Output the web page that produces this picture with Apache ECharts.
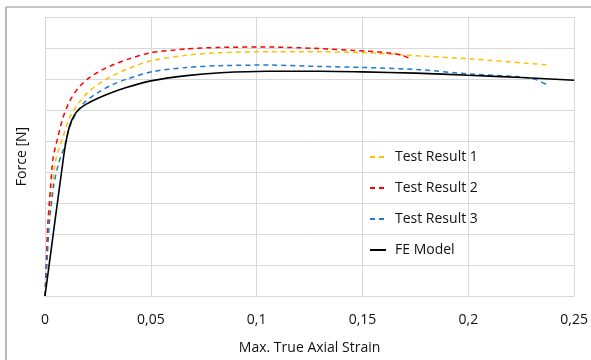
<!DOCTYPE html>
<html>
<head>
<meta charset="utf-8">
<script src="https://cdn.jsdelivr.net/npm/echarts@6/dist/echarts.min.js"></script>
<style>
  html, body { margin: 0; padding: 0; background: #fff; }
  #chart { width: 591px; height: 360px; }
</style>
</head>
<body>
<div id="chart"></div>
<script>
// 数据 (strain, force)
const test1 = [[0,0],[0.0007,1.04],[0.0017,2.4],[0.0035,3.6],[0.0052,4.42],[0.0085,5.13],[0.0116,5.75],[0.0156,6.2],
  [0.0203,6.57],[0.0266,6.9],[0.0329,7.14],[0.0392,7.33],[0.0495,7.58],[0.0668,7.77],[0.0825,7.85],
  [0.106,7.88],[0.126,7.88],[0.1517,7.85],[0.1706,7.77],[0.199,7.66],[0.2382,7.45]];
const test2 = [[0,0],[0.0006,1.04],[0.0014,2.4],[0.0026,3.5],[0.0038,4.45],[0.0061,5.13],[0.0085,5.75],[0.0116,6.28],
  [0.0156,6.7],[0.0203,7.01],[0.0266,7.28],[0.0329,7.48],[0.0392,7.64],[0.0495,7.84],[0.0668,7.97],
  [0.0825,8.02],[0.106,8.03],[0.1266,7.99],[0.1517,7.9],[0.164,7.83],[0.169,7.76],[0.172,7.67]];
const test3 = [[0,0],[0.0009,1.04],[0.0021,2.4],[0.0042,3.6],[0.0065,4.3],[0.0093,4.85],[0.0116,5.44],[0.0148,5.9],
  [0.0187,6.25],[0.025,6.56],[0.0313,6.8],[0.0392,7.01],[0.051,7.24],[0.0668,7.37],[0.0825,7.43],
  [0.106,7.45],[0.1266,7.41],[0.1517,7.37],[0.177,7.3],[0.199,7.17],[0.224,7.07],[0.232,6.98],[0.2367,6.83]];
const feModel = [[0,0],[0.0088,4.5],[0.01,5.0],[0.0117,5.5],[0.014,5.85],[0.0164,6.04],[0.0195,6.19],
  [0.025,6.38],[0.031,6.55],[0.038,6.72],[0.05,6.94],[0.067,7.11],[0.083,7.2],[0.105,7.25],[0.13,7.25],
  [0.15,7.23],[0.175,7.19],[0.2,7.12],[0.225,7.05],[0.25,6.96]];
const seriesNames = ['Test Result 1', 'Test Result 2', 'Test Result 3', 'FE Model'];
const xTicks = [0, 0.05, 0.1, 0.15, 0.2, 0.25];

const chart = echarts.init(document.getElementById('chart'), null, { renderer: 'canvas' });
const font = 'Open Sans, Liberation Sans, sans-serif';

function line(name, data, color, dashed) {
  return {
    name: name,
    type: 'line',
    data: data,
    smooth: 0.25,
    symbol: 'none',
    lineStyle: { color: color, width: dashed ? 1.5 : 1.6, type: dashed ? [5, 4] : 'solid' },
    itemStyle: { color: color }
  };
}

const option = {
  backgroundColor: '#fff',
  animation: false,
  grid: { left: 45, right: 15, top: 17, bottom: 57, containLabel: false },
  legend: {
    orient: 'vertical',
    left: 369, top: 150,
    padding: 0,
    itemGap: 17,
    itemWidth: 16, itemHeight: 14,
    data: seriesNames,
    itemStyle: { opacity: 0 },
    textStyle: { fontFamily: font, fontSize: 14, color: '#111', padding: [0, 0, 0, 4] }
  },
  xAxis: {
    type: 'value',
    min: 0, max: 0.25, interval: 0.05,
    axisLine: { show: true, lineStyle: { color: '#d9d9d9' } },
    axisTick: { show: false },
    splitLine: { show: true, lineStyle: { color: '#d9d9d9' } },
    axisLabel: {
      fontFamily: font, fontSize: 14, color: '#111', margin: 17,
      formatter: v => xTicks.includes(+v.toFixed(2)) ? String(+v.toFixed(2)).replace('.', ',') : ''
    },
    name: 'Max. True Axial Strain',
    nameLocation: 'middle', nameGap: 45,
    nameTextStyle: { fontFamily: font, fontSize: 14, color: '#111' }
  },
  yAxis: {
    type: 'value',
    min: 0, max: 9, interval: 1,
    axisLine: { show: false },
    axisTick: { show: false },
    axisLabel: { show: false },
    splitLine: { show: true, lineStyle: { color: '#d9d9d9' } },
    name: 'Force [N]',
    nameLocation: 'middle', nameGap: 16,
    nameTextStyle: { fontFamily: font, fontSize: 14, color: '#111' }
  },
  graphic: [
    { type: 'line', shape: { x1: 6, y1: 7, x2: 591, y2: 7 }, style: { stroke: '#8c8c8c', lineWidth: 1.2 } },
    { type: 'line', shape: { x1: 6, y1: 7, x2: 6, y2: 360 }, style: { stroke: '#8c8c8c', lineWidth: 1.2 } }
  ],
  series: [
    line(seriesNames[0], test1, '#ffc000', true),
    line(seriesNames[1], test2, '#ff0000', true),
    line(seriesNames[2], test3, '#1f78c8', true),
    line(seriesNames[3], feModel, '#000000', false)
  ]
};

chart.setOption(option);
</script>
</body>
</html>
